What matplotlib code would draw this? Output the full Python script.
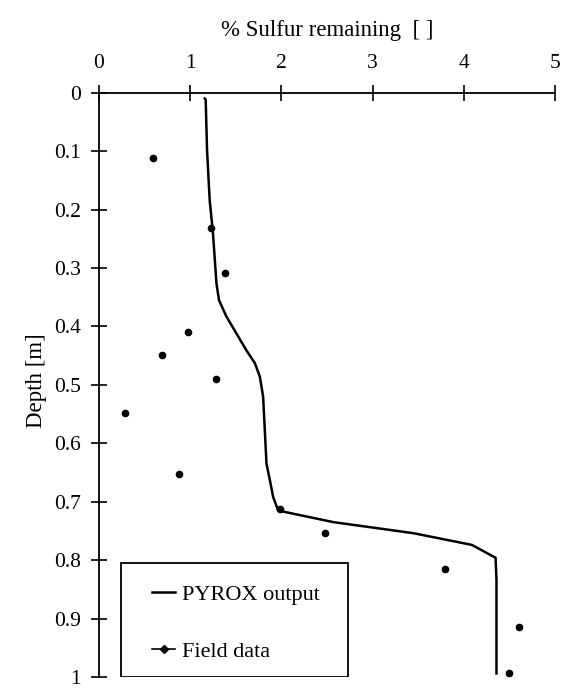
import matplotlib.pyplot as plt
from matplotlib.lines import Line2D
from matplotlib.patches import Rectangle

plt.rcParams['font.family'] = ['Liberation Serif', 'DejaVu Serif']

# PYROX model output (sulfur %, depth m)
pyrox_s = [1.16, 1.17, 1.185, 1.214, 1.25, 1.288, 1.316, 1.397, 1.507, 1.617, 1.71,
           1.764, 1.80, 1.837, 1.874, 1.91, 1.965, 2.02, 2.57, 3.45, 4.09, 4.35, 4.36, 4.36]
pyrox_depth = [0.01, 0.012, 0.098, 0.184, 0.24, 0.326, 0.355, 0.383, 0.412, 0.441, 0.463,
               0.486, 0.52, 0.635, 0.663, 0.692, 0.715, 0.717, 0.735, 0.754, 0.774, 0.796,
               0.834, 0.994]

# field measurements
field_s = [0.59, 1.23, 1.38, 0.976, 0.687, 1.28, 0.284, 0.877, 1.98, 2.48, 3.79, 4.61, 4.50]
field_depth = [0.111, 0.231, 0.309, 0.409, 0.449, 0.49, 0.549, 0.652, 0.713, 0.754,
               0.816, 0.914, 0.994]

x_ticks = [0, 1, 2, 3, 4, 5]
y_ticks = [0, 0.1, 0.2, 0.3, 0.4, 0.5, 0.6, 0.7, 0.8, 0.9, 1]
y_labels = ['0', '0.1', '0.2', '0.3', '0.4', '0.5', '0.6', '0.7', '0.8', '0.9', '1']

fig = plt.figure(figsize=(5.61, 6.95), dpi=100)
ax = fig.add_axes([0.1765, 0.026, 0.8125, 0.8406])

ax.plot(pyrox_s, pyrox_depth, color='black', lw=1.8)
ax.plot(field_s, field_depth, linestyle='none', marker='o', ms=4.5, color='black')

ax.set_xlim(0, 5)
ax.set_ylim(1, 0)
ax.xaxis.tick_top()
ax.xaxis.set_label_position('top')
ax.set_xticks(x_ticks)
ax.set_yticks(y_ticks)
ax.set_yticklabels(y_labels)
ax.tick_params(direction='inout', length=11, width=1.2, labelsize=15.5, colors='black')
ax.tick_params(axis='x', pad=8.5)
ax.tick_params(axis='y', pad=7.5)

for side in ['right', 'bottom']:
    ax.spines[side].set_visible(False)
for side in ['left', 'top']:
    ax.spines[side].set_linewidth(1.3)

ax.set_xlabel('% Sulfur remaining  [ ]', fontsize=16.5, labelpad=13)
ax.set_ylabel('Depth [m]', fontsize=16.5)
ax.yaxis.set_label_coords(-0.114, 0.507)

# legend frame drawn by hand so the entries can sit further in
ax.add_patch(Rectangle((0.048, 0.0), 0.498, 0.195, transform=ax.transAxes,
                       facecolor='white', edgecolor='black', lw=1.3, zorder=4))
handles = [Line2D([], [], color='black', lw=1.8),
           Line2D([], [], color='black', lw=1.2, marker='D', ms=4)]
leg = ax.legend(handles, ['PYROX output', 'Field data'], loc='center left',
                bbox_to_anchor=(0.116, 0.092), borderaxespad=0, borderpad=0,
                fontsize=16, frameon=False, handlelength=1.05, handletextpad=0.3,
                labelspacing=1.63)
leg.set_zorder(5)

fig.savefig('out.png', dpi=100, facecolor='white')
